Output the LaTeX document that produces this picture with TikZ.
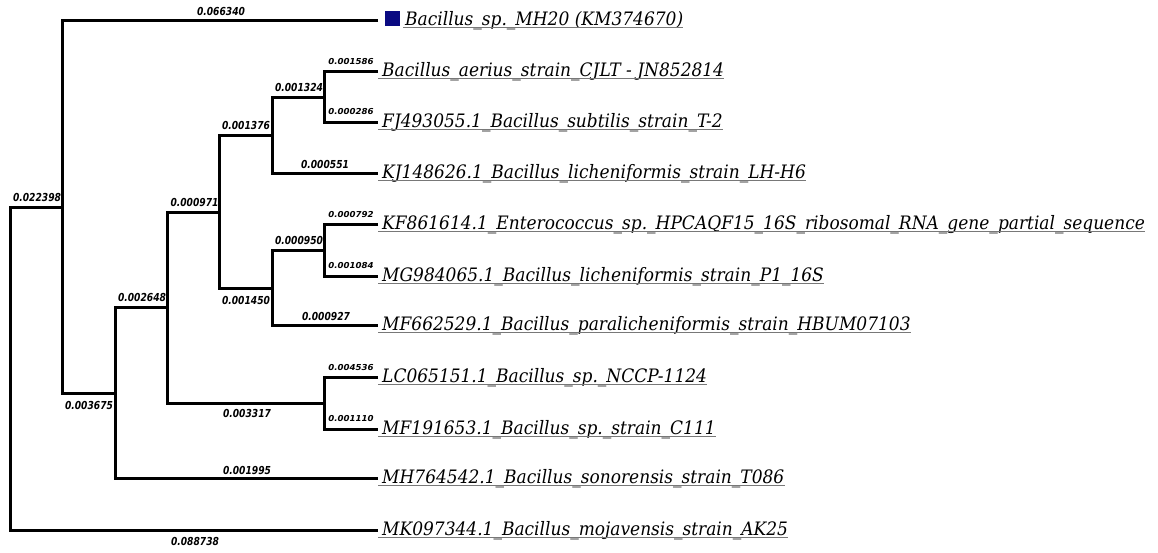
\documentclass[tikz,border=0pt]{standalone}
\usepackage{fontspec}
\newfontfamily\leaffont[FakeStretch=0.92]{DejaVu Serif}
\newfontfamily\brfont[FakeStretch=0.83]{DejaVu Sans}
\newfontfamily\brsmallfont[FakeStretch=1.05]{DejaVu Sans}
\definecolor{sqnavy}{RGB}{10,10,130}
\definecolor{ulgray}{RGB}{120,120,120}
\begin{document}
\begin{tikzpicture}[x=1pt,y=-1pt,
  br/.style={line width=3pt},
  leaf/.style={anchor=base west,inner sep=0pt,font=\leaffont\itshape\fontsize{18.5}{18.5}\selectfont},
  ul/.style={draw=ulgray,line width=1pt},
  bl/.style={inner sep=0pt,font=\brfont\bfseries\itshape\fontsize{11}{11}\selectfont},
  bls/.style={inner sep=0pt,font=\brsmallfont\bfseries\itshape\fontsize{8.2}{8.2}\selectfont}]
\useasboundingbox[fill=white] (0,0) rectangle (1158,552);
% internal nodes
\coordinate (R) at (10,400);
\coordinate (A) at (62,207);
\coordinate (B) at (115,393);
\coordinate (C) at (167,307);
\coordinate (D) at (219,212);
\coordinate (E) at (272,135);
\coordinate (F) at (324,97);
\coordinate (G) at (272,288);
\coordinate (H) at (324,250);
\coordinate (N) at (324,403);
% leaf ends
\coordinate (l1) at (378,20);
\coordinate (l2) at (378,71);
\coordinate (l3) at (378,122);
\coordinate (l4) at (378,173);
\coordinate (l5) at (378,224);
\coordinate (l6) at (378,276);
\coordinate (l7) at (378,325);
\coordinate (l8) at (378,377);
\coordinate (l9) at (378,429);
\coordinate (l10) at (378,478);
\coordinate (l11) at (378,530);
% branches
\draw[br] (A) -| (R) |- (l11);
\draw[br] (l1) -| (A) |- (B);
\draw[br] (C) -| (B) |- (l10);
\draw[br] (D) -| (C) |- (N);
\draw[br] (E) -| (D) |- (G);
\draw[br] (F) -| (E) |- (l4);
\draw[br] (l2) -| (F) |- (l3);
\draw[br] (H) -| (G) |- (l7);
\draw[br] (l5) -| (H) |- (l6);
\draw[br] (l8) -| (N) |- (l9);
% square
\node[fill=sqnavy,minimum size=15pt,inner sep=0pt] (sq) at (392.5,18) {};
% leaf labels
\node[leaf] (t1) at (405,25) {Bacillus\_sp.\_MH20 (KM374670)};
\node[leaf] (t2) at (382,76) {Bacillus\_aerius\_strain\_CJLT - JN852814};
\node[leaf] (t3) at (382,127) {FJ493055.1\_Bacillus\_subtilis\_strain\_T-2};
\node[leaf] (t4) at (382,178) {KJ148626.1\_Bacillus\_licheniformis\_strain\_LH-H6};
\node[leaf] (t5) at (382,229) {KF861614.1\_Enterococcus\_sp.\_HPCAQF15\_16S\_ribosomal\_RNA\_gene\_partial\_sequence};
\node[leaf] (t6) at (382,281) {MG984065.1\_Bacillus\_licheniformis\_strain\_P1\_16S};
\node[leaf] (t7) at (382,330) {MF662529.1\_Bacillus\_paralicheniformis\_strain\_HBUM07103};
\node[leaf] (t8) at (382,382) {LC065151.1\_Bacillus\_sp.\_NCCP-1124};
\node[leaf] (t9) at (382,434) {MF191653.1\_Bacillus\_sp.\_strain\_C111};
\node[leaf] (t10) at (382,483) {MH764542.1\_Bacillus\_sonorensis\_strain\_T086};
\node[leaf] (t11) at (382,535) {MK097344.1\_Bacillus\_mojavensis\_strain\_AK25};
\draw[ul] ([xshift=-2pt,yshift=-2pt]t1.base west) -- ([yshift=-2pt]t1.base east);
\foreach \i in {2,...,11}{
  \draw[ul] ([xshift=-4pt,yshift=-2pt]t\i.base west) -- ([yshift=-2pt]t\i.base east);
}
% branch lengths
\node[bl] (b1) at (221,11) {0.066340};
\node[bls] (b2) at (351,62) {0.001586};
\node[bl] (b3) at (299,87.5) {0.001324};
\node[bls] (b4) at (351,112) {0.000286};
\node[bl] (b5) at (246,125.5) {0.001376};
\node[bl] (b6) at (325,164.5) {0.000551};
\node[bl] (b7) at (37,197) {0.022398};
\node[bl] (b8) at (194.5,202.5) {0.000971};
\node[bls] (b9) at (351,215) {0.000792};
\node[bl] (b10) at (299,240) {0.000950};
\node[bls] (b11) at (351,266) {0.001084};
\node[bl] (b12) at (246,300) {0.001450};
\node[bl] (b13) at (142,297) {0.002648};
\node[bl] (b14) at (326,316.5) {0.000927};
\node[bls] (b15) at (351,368) {0.004536};
\node[bl] (b16) at (89,405) {0.003675};
\node[bl] (b17) at (247,413) {0.003317};
\node[bls] (b18) at (351,419) {0.001110};
\node[bl] (b19) at (247,470) {0.001995};
\node[bl] (b20) at (195,541) {0.088738};
\end{tikzpicture}
\end{document}
